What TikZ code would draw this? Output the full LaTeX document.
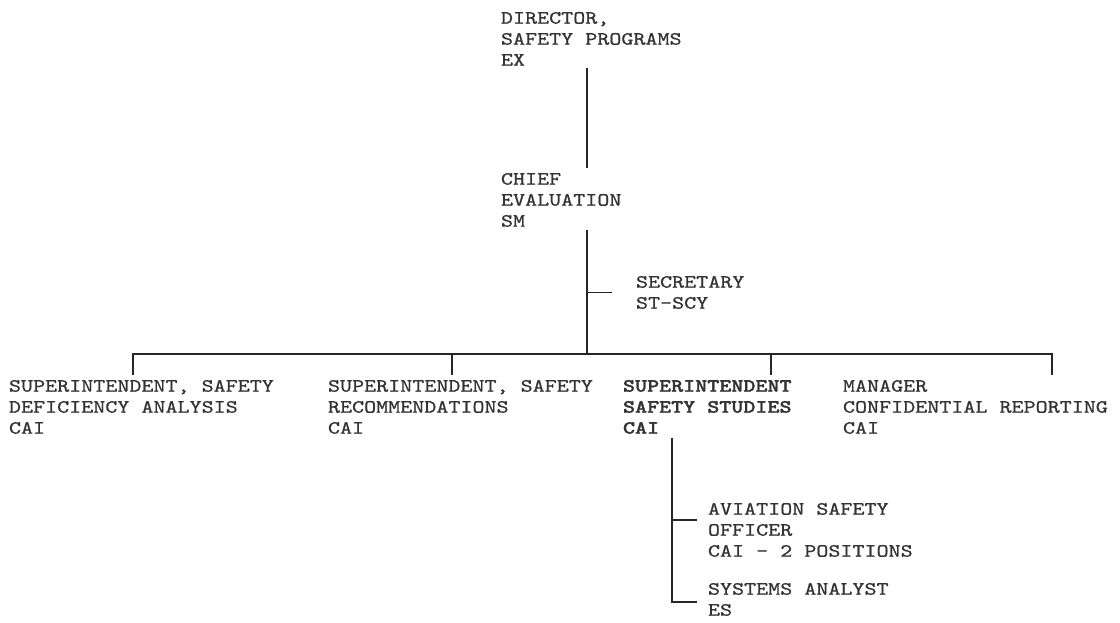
\documentclass[tikz,border=0pt]{standalone}
\usepackage{fontspec}
\newfontfamily\typew[FakeStretch=1.22,FakeBold=0.8,BoldFont=lmmonolt10-bold.otf,BoldFeatures={FakeBold=1.5}]{lmmono10-regular.otf}
\tikzset{
  lbl/.style={anchor=north west, inner sep=0pt, outer sep=0pt, align=left,
    font=\typew\fontsize{18.8}{21}\selectfont, text=black!80},
  wire/.style={line width=1.4pt, draw=black!85}
}
\begin{document}
\begin{tikzpicture}[x=1pt,y=-1pt]
\useasboundingbox (0,0) rectangle (1120,623);
% nodes
\node[lbl] (dir) at (501,12) {DIRECTOR,\\SAFETY PROGRAMS\\EX};
\node[lbl] (chief) at (501,173) {CHIEF\\EVALUATION\\SM};
\node[lbl] (sec) at (636,276) {SECRETARY\\ST-SCY};
\node[lbl] (s1) at (9,380) {SUPERINTENDENT, SAFETY\\DEFICIENCY ANALYSIS\\CAI};
\node[lbl] (s2) at (328,380) {SUPERINTENDENT, SAFETY\\RECOMMENDATIONS\\CAI};
\node[lbl,font=\typew\bfseries\fontsize{18.8}{21}\selectfont] (s3) at (623,380) {SUPERINTENDENT\\SAFETY STUDIES\\CAI};
\node[lbl] (m4) at (843,380) {MANAGER\\CONFIDENTIAL REPORTING\\CAI};
\node[lbl] (aso) at (708,503) {AVIATION SAFETY\\OFFICER\\CAI - 2 POSITIONS};
\node[lbl] (sa) at (708,583) {SYSTEMS ANALYST\\ES};
% junction coordinates
\coordinate (tr) at (587,354);
\coordinate (b1) at (133,354);
\coordinate (b2) at (452,354);
\coordinate (b3) at (771,354);
\coordinate (b4) at (1052,354);
\coordinate (sub) at (672,602);
% connectors
\draw[wire] ([yshift=-2pt]dir.south -| tr) -- ([yshift=5pt]chief.north -| tr);
\draw[wire] ([yshift=-3pt]chief.south -| tr) -- (tr);
\draw[wire] (sec.west -| tr) -- ([xshift=-24pt]sec.west);
\draw[wire] ([yshift=5pt]s1.north -| b1) -- (b1) -- (b4) -- ([yshift=5pt]m4.north -| b4);
\draw[wire] (b2) -- ([yshift=5pt]s2.north -| b2);
\draw[wire] (b3) -- ([yshift=5pt]s3.north -| b3);
\draw[wire] ([yshift=-4pt]s3.south -| sub) -- (sub) -- ([xshift=-11pt]sa.north west |- sub);
\draw[wire] ([yshift=-17pt]aso.north -| sub) -- ([xshift=-11pt,yshift=-17pt]aso.north west);
\end{tikzpicture}
\end{document}
